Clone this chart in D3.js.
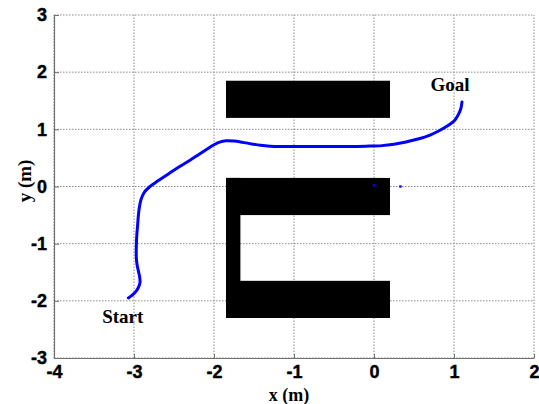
<!DOCTYPE html>
<html>
<head>
<meta charset="utf-8">
<script src="https://cdn.jsdelivr.net/npm/d3@7"></script>
<style>
  html, body { margin: 0; padding: 0; background: #fff; }
  svg { display: block; }
</style>
</head>
<body>
<svg id="chart" width="539" height="404"></svg>
<script>
// Robot trajectory samples (metres)
const pathX = [-3.07, -3.03, -2.99, -2.95, -2.925, -2.93, -2.945, -2.96, -2.97, -2.972, -2.97, -2.965, -2.955, -2.945, -2.93, -2.91,
               -2.87, -2.8, -2.7, -2.57, -2.43, -2.3, -2.18, -2.08, -2.0, -1.93, -1.85, -1.75, -1.65, -1.53, -1.42, -1.3,
               -1.1, -0.85, -0.6, -0.35, -0.1, 0.1, 0.25, 0.4, 0.55, 0.7, 0.82, 0.93, 1.01, 1.055, 1.085, 1.10];
const pathY = [-1.95, -1.91, -1.86, -1.78, -1.68, -1.58, -1.48, -1.38, -1.27, -1.15, -1.0, -0.85, -0.68, -0.5, -0.34, -0.22,
               -0.1, 0.0, 0.1, 0.22, 0.35, 0.46, 0.57, 0.66, 0.73, 0.775, 0.80, 0.795, 0.775, 0.745, 0.72, 0.705,
               0.70, 0.70, 0.70, 0.70, 0.705, 0.715, 0.74, 0.78, 0.83, 0.9, 0.98, 1.07, 1.16, 1.26, 1.36, 1.48];

// Obstacles as rectangles [x0, x1] x [y0, y1]
const obsX0 = [-1.85, -1.85, -1.85, -1.85];
const obsX1 = [0.2, 0.2, -1.67, 0.2];
const obsY0 = [1.2, -0.5, -2.3, -2.3];
const obsY1 = [1.85, 0.15, 0.15, -1.65];

// Isolated detections
const strayX = [0.0, 0.33];
const strayY = [0.02, 0.0];

const xTicks = [-4, -3, -2, -1, 0, 1, 2];
const yTicks = [-3, -2, -1, 0, 1, 2, 3];

const labels = [
  { text: "Start", x: -3.14, y: -2.38 },
  { text: "Goal", x: 0.95, y: 1.67 }
];

const W = 539, H = 404;
const margin = { left: 54, right: 5, top: 15, bottom: 46 };
const svg = d3.select("#chart");

const x = d3.scaleLinear().domain([-4, 2]).range([margin.left, W - margin.right]);
const y = d3.scaleLinear().domain([-3, 3]).range([H - margin.bottom, margin.top]);

// dotted grid
const grid = svg.append("g");
grid.selectAll("line.vx").data(xTicks).join("line")
  .attr("x1", d => x(d)).attr("x2", d => x(d))
  .attr("y1", y(-3)).attr("y2", y(3))
  .attr("stroke", "#8a8a8a").attr("stroke-width", 1).attr("stroke-dasharray", "1.5,1.5");
grid.selectAll("line.hy").data(yTicks).join("line")
  .attr("y1", d => y(d)).attr("y2", d => y(d))
  .attr("x1", x(-4)).attr("x2", x(2))
  .attr("stroke", "#8a8a8a").attr("stroke-width", 1).attr("stroke-dasharray", "1.5,1.5");

// obstacles
svg.append("g").selectAll("rect").data(obsX0).join("rect")
  .attr("x", (d, i) => x(obsX0[i]))
  .attr("y", (d, i) => y(obsY1[i]))
  .attr("width", (d, i) => x(obsX1[i]) - x(obsX0[i]))
  .attr("height", (d, i) => y(obsY0[i]) - y(obsY1[i]))
  .attr("fill", "#000");

// axes (left and bottom only, inward ticks)
const axisStyle = g => {
  g.select(".domain").attr("stroke", "#707070").attr("stroke-width", 1.2);
  g.selectAll(".tick line").attr("stroke", "#707070");
  g.selectAll(".tick text")
    .attr("font-family", "'Liberation Sans', Arial, sans-serif")
    .attr("font-weight", "bold").attr("font-size", 18).attr("fill", "#000")
    .attr("stroke", "#000").attr("stroke-width", 0.4);
};
const fmt = d => String(d);
svg.append("g")
  .attr("transform", `translate(0,${y(-3)})`)
  .call(d3.axisBottom(x).tickValues(xTicks).tickFormat(fmt)
        .tickSizeInner(-4).tickSizeOuter(0).tickPadding(7))
  .call(axisStyle);
svg.append("g")
  .attr("transform", `translate(${x(-4)},0)`)
  .call(d3.axisLeft(y).tickValues(yTicks).tickFormat(fmt)
        .tickSizeInner(-5).tickSizeOuter(0).tickPadding(7))
  .call(axisStyle);

// trajectory
const pts = pathX.map((v, i) => [v, pathY[i]]);
svg.append("path")
  .datum(pts)
  .attr("d", d3.line().x(d => x(d[0])).y(d => y(d[1])).curve(d3.curveCatmullRom.alpha(0.5)))
  .attr("fill", "none").attr("stroke", "#0000ff").attr("stroke-width", 3)
  .attr("stroke-linejoin", "round").attr("stroke-linecap", "round");

svg.append("g").selectAll("rect").data(strayX).join("rect")
  .attr("x", (d, i) => x(strayX[i]) - 1.2)
  .attr("y", (d, i) => y(strayY[i]) - 1.2)
  .attr("width", 2.4).attr("height", 2.4)
  .attr("fill", "#0000ff");

// annotations
svg.append("g").selectAll("text").data(labels).join("text")
  .attr("x", d => x(d.x)).attr("y", d => y(d.y))
  .attr("text-anchor", "middle")
  .attr("font-family", "'Liberation Serif', 'Times New Roman', serif")
  .attr("font-weight", "bold").attr("font-size", 19)
  .text(d => d.text);

// axis titles
svg.append("text")
  .attr("x", 289).attr("y", 401)
  .attr("text-anchor", "middle")
  .attr("font-family", "'Liberation Serif', 'Times New Roman', serif")
  .attr("font-weight", "bold").attr("font-size", 18)
  .text("x (m)");
svg.append("text")
  .attr("transform", "translate(31,181) rotate(-90)")
  .attr("text-anchor", "middle")
  .attr("font-family", "'Liberation Serif', 'Times New Roman', serif")
  .attr("font-weight", "bold").attr("font-size", 19)
  .text("y (m)");
</script>
</body>
</html>
